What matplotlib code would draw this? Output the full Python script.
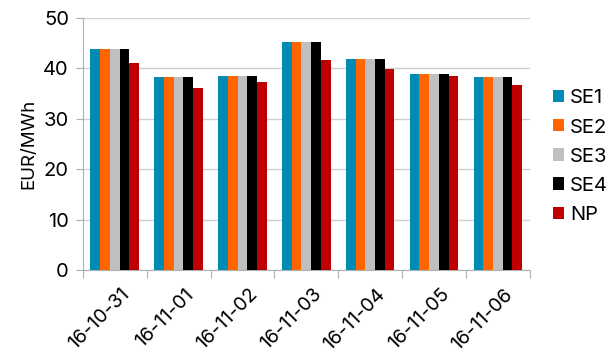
import matplotlib.pyplot as plt
import matplotlib.transforms as mtransforms
import numpy as np

# dagspriser per elområde
datum = ["16-10-31", "16-11-01", "16-11-02", "16-11-03", "16-11-04", "16-11-05", "16-11-06"]
se1 = [43.8, 38.2, 38.4, 45.3, 41.8, 38.9, 38.2]
se2 = [43.8, 38.2, 38.4, 45.3, 41.8, 38.9, 38.2]
se3 = [43.8, 38.2, 38.4, 45.3, 41.8, 38.9, 38.2]
se4 = [43.8, 38.2, 38.4, 45.3, 41.8, 38.9, 38.2]
np_pris = [41.0, 36.2, 37.3, 41.6, 39.9, 38.4, 36.8]

serier = [("SE1", se1, "#008ab5"), ("SE2", se2, "#ff6600"), ("SE3", se3, "#bfbfbf"),
          ("SE4", se4, "#000000"), ("NP", np_pris, "#c00000")]

plt.rcParams['font.family'] = ['Inter', 'DejaVu Sans']

fig = plt.figure(figsize=(6.09, 3.6), dpi=100)
ax = fig.add_axes([0.136, 0.25, 0.734, 0.70])

x = np.arange(len(datum))
bredd = 0.152
for i, (namn, varden, farg) in enumerate(serier):
    ax.bar(x + (i - 2) * bredd, varden, bredd, color=farg, label=namn, zorder=3)

ax.set_xlim(-0.5, len(datum) - 0.5)
ax.set_ylim(0, 50)
ax.set_yticks(range(0, 51, 10))
ax.yaxis.grid(True, color="#d0d0d0", linewidth=1, zorder=0)

# tickmarkeringar mellan dagarna, etiketter i mitten
ax.set_xticks(np.arange(-0.5, len(datum), 1.0))
ax.set_xticklabels([])
ax.set_xticks(x, minor=True)
ax.set_xticklabels(datum, minor=True, rotation=45, ha="right", va="top",
                   rotation_mode="anchor", fontsize=14)
ax.tick_params(axis="x", which="minor", length=0, pad=11)
ax.tick_params(axis="x", which="major", length=6, color="#b0b0b0")
ax.tick_params(axis="y", length=5, color="#b0b0b0", labelsize=14.5, pad=5)

# flytta datumetiketterna lite åt höger
forskjut = mtransforms.ScaledTranslation(6 / 100, 0, fig.dpi_scale_trans)
for lbl in ax.get_xticklabels(minor=True):
    lbl.set_transform(lbl.get_transform() + forskjut)

for s in ["top", "right"]:
    ax.spines[s].set_visible(False)
for s in ["left", "bottom"]:
    ax.spines[s].set_color("#b0b0b0")

ax.set_ylabel("EUR/MWh", fontsize=13.5, labelpad=4)

ax.legend(loc="center left", bbox_to_anchor=(1.02, 0.45), frameon=False,
          fontsize=14.5, handlelength=0.55, handleheight=0.55, handletextpad=0.3,
          labelspacing=0.55, borderaxespad=0.3)

fig.savefig("out.png", dpi=100)
